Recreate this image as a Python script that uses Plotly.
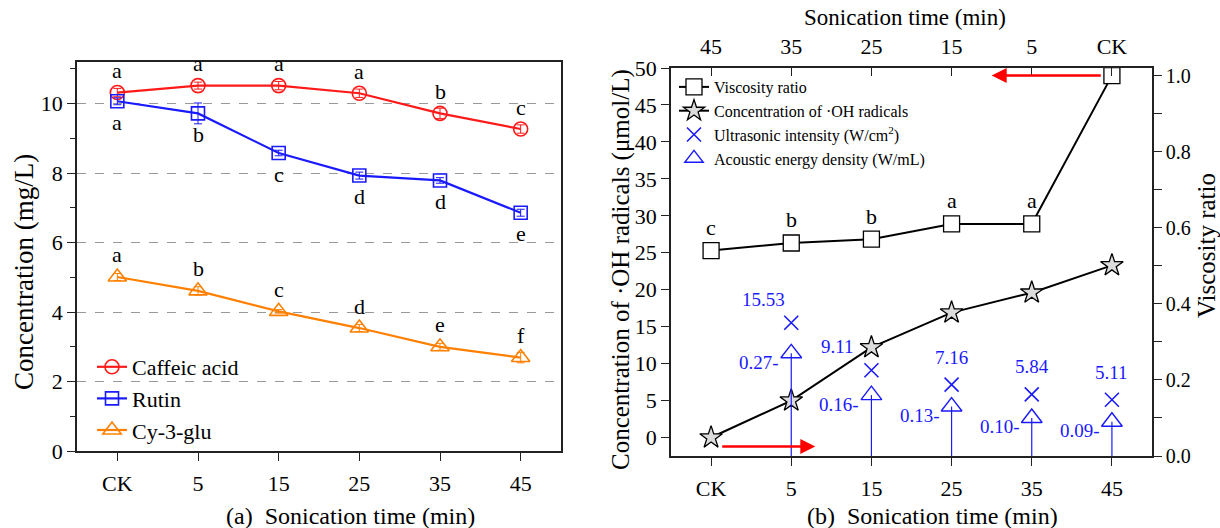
import plotly.graph_objects as go

# ---------------- data ----------------
times = ["CK", "5", "15", "25", "35", "45"]
times_rev = ["45", "35", "25", "15", "5", "CK"]

caffeic = [10.32, 10.52, 10.52, 10.30, 9.72, 9.27]
caffeic_err = [0.12, 0.10, 0.12, 0.12, 0.15, 0.12]
caffeic_lbl = ["a", "a", "a", "a", "b", "c"]

rutin = [10.07, 9.72, 8.58, 7.93, 7.79, 6.86]
rutin_err = [0.10, 0.30, 0.08, 0.10, 0.08, 0.10]
rutin_lbl = ["a", "b", "c", "d", "d", "e"]

cy3glu = [5.01, 4.61, 4.02, 3.54, 3.00, 2.69]
cy3glu_err = [0.10, 0.12, 0.05, 0.10, 0.10, 0.15]
cy3glu_lbl = ["a", "b", "c", "d", "e", "f"]

# right panel
visc_times = ["45", "35", "25", "15", "5", "CK"]
viscosity = [0.54, 0.56, 0.57, 0.61, 0.61, 1.00]
visc_err = [0.005, 0.015, 0.005, 0.012, 0.005, 0.012]
visc_lbl = ["c", "b", "b", "a", "a", ""]

oh_times = ["CK", "5", "15", "25", "35", "45"]
oh_rad = [0.0, 5.0, 12.2, 16.9, 19.6, 23.3]

us_times = ["5", "15", "25", "35", "45"]
us_intensity = [15.53, 9.11, 7.16, 5.84, 5.11]
energy_density = [0.27, 0.16, 0.13, 0.10, 0.09]

FONT = "Liberation Serif"
BLUE = "#1a1aff"
W, H = 1220, 528


def px(xp):
    return xp / W


def py(yp):
    return (H - yp) / H


fig = go.Figure()

# ---------------- left panel ----------------
series = [
    ("Caffeic acid", caffeic, caffeic_err, "#ff1a1a", "circle-open", 14),
    ("Rutin", rutin, rutin_err, "#1a1aff", "square-open", 13),
    ("Cy-3-glu", cy3glu, cy3glu_err, "#ff8000", "triangle-up-open", 16),
]
for name, vals, err, col, sym, sz in series:
    fig.add_trace(go.Scatter(
        x=times, y=vals, name=name, mode="lines+markers",
        line=dict(color=col, width=2.2),
        marker=dict(symbol=sym, size=sz, color=col, line=dict(width=1.6, color=col)),
        error_y=dict(type="data", array=err, color=col, thickness=1, width=4),
        xaxis="x", yaxis="y", legend="legend",
    ))

# ---------------- right panel ----------------
drop_x, drop_y = [], []
for t, v in zip(us_times, energy_density):
    drop_x += [t, t, None]
    drop_y += [0, v, None]
fig.add_trace(go.Scatter(
    x=drop_x, y=drop_y, mode="lines", line=dict(color=BLUE, width=1.2),
    xaxis="x2", yaxis="y3", showlegend=False, hoverinfo="skip"))

fig.add_trace(go.Scatter(
    x=visc_times, y=viscosity, name="Viscosity ratio", mode="lines+markers",
    line=dict(color="black", width=2),
    marker=dict(symbol="square", size=16, color="white", line=dict(width=1.3, color="black")),
    error_y=dict(type="data", array=visc_err, color="black", thickness=1, width=3),
    xaxis="x3", yaxis="y3", legend="legend2"))

fig.add_trace(go.Scatter(
    x=oh_times, y=oh_rad, name="Concentration of ·OH radicals", mode="lines+markers",
    line=dict(color="black", width=2),
    marker=dict(symbol="star", size=17, color="#dcdcdc", line=dict(width=1.3, color="black")),
    xaxis="x2", yaxis="y2", legend="legend2"))

fig.add_trace(go.Scatter(
    x=us_times, y=us_intensity, name="Ultrasonic intensity (W/cm<sup>2</sup>)", mode="markers",
    marker=dict(symbol="x-thin-open", size=14, color=BLUE, line=dict(width=1.6, color=BLUE)),
    xaxis="x2", yaxis="y2", legend="legend2"))

fig.add_trace(go.Scatter(
    x=us_times, y=energy_density, name="Acoustic energy density (W/mL)", mode="markers",
    marker=dict(symbol="triangle-up-open", size=18, color=BLUE, line=dict(width=1.4, color=BLUE)),
    xaxis="x2", yaxis="y3", legend="legend2"))

ann = []
LET = dict(family=FONT, size=22, color="black")
for vals, lbls, shift in [(caffeic, caffeic_lbl, 22), (rutin, rutin_lbl, -21), (cy3glu, cy3glu_lbl, 22)]:
    for t, v, l in zip(times, vals, lbls):
        ann.append(dict(x=times.index(t), y=v, xref="x", yref="y", text=l, showarrow=False,
                        yshift=shift, font=LET))
for t, v, l in zip(visc_times, viscosity, visc_lbl):
    if l:
        ann.append(dict(x=times_rev.index(t), y=v, xref="x3", yref="y3", text=l, showarrow=False,
                        yshift=23, font=LET))
us_shifts = [(-28, 23), (-34, 24), (0, 27), (0, 28), (0, 27)]
for t, v, (xs, ys) in zip(us_times, us_intensity, us_shifts):
    ann.append(dict(x=times.index(t), y=v, xref="x2", yref="y2", text=f"{v:.2f}", showarrow=False,
                    xshift=xs, yshift=ys, font=dict(family=FONT, size=19, color=BLUE)))
for t, v in zip(us_times, energy_density):
    ann.append(dict(x=times.index(t), y=v, xref="x2", yref="y3", text=f"{v:.2f}-", showarrow=False,
                    xanchor="right", xshift=-10, yshift=-9,
                    font=dict(family=FONT, size=19, color=BLUE)))
# red arrows
ann.append(dict(x=3.5, y=1.0, ax=4.88, ay=1.0, xref="x2", yref="y3", axref="x2", ayref="y3",
                text="", showarrow=True, arrowhead=2, arrowsize=1.2, arrowwidth=2.5, arrowcolor="red"))
ann.append(dict(x=1.3, y=-1.2, ax=0.12, ay=-1.2, xref="x2", yref="y2", axref="x2", ayref="y2",
                text="", showarrow=True, arrowhead=2, arrowsize=1.2, arrowwidth=2.5, arrowcolor="red"))

# titles and captions (paper positioned text)
TT = dict(family=FONT, size=24, color="black")
ann.append(dict(x=px(351), y=py(516), xref="paper", yref="paper", xanchor="center", yanchor="middle",
                text="(a)  Sonication time (min)", showarrow=False, font=TT))
ann.append(dict(x=px(932), y=py(516), xref="paper", yref="paper", xanchor="center", yanchor="middle",
                text="(b)  Sonication time (min)", showarrow=False, font=TT))
ann.append(dict(x=px(905), y=py(18), xref="paper", yref="paper", xanchor="center", yanchor="middle",
                text="Sonication time (min)", showarrow=False,
                font=dict(family=FONT, size=23, color="black")))
ann.append(dict(x=px(24), y=py(272), xref="paper", yref="paper", xanchor="center", yanchor="middle",
                text="Concentration (mg/L)", textangle=-90, showarrow=False,
                font=dict(family=FONT, size=27, color="black")))
ann.append(dict(x=px(621), y=py(270), xref="paper", yref="paper", xanchor="center", yanchor="middle",
                text="Concentration of ·OH radicals (μmol/L)", textangle=-90, showarrow=False,
                font=dict(family=FONT, size=25, color="black")))
ann.append(dict(x=px(1206), y=py(246), xref="paper", yref="paper", xanchor="center", yanchor="middle",
                text="Viscosity ratio", textangle=-90, showarrow=False,
                font=dict(family=FONT, size=25, color="black")))

axfont = dict(family=FONT, size=22, color="black")
common = dict(showline=True, linecolor="#222", linewidth=1.6, ticks="outside", ticklen=8,
              tickwidth=1.4, tickcolor="#222", automargin=False, zeroline=False,
              tickfont=axfont, showgrid=False)

fig.update_layout(
    width=W, height=H, margin=dict(l=0, r=0, t=0, b=0),
    paper_bgcolor="white", plot_bgcolor="white",
    font=dict(family=FONT, color="black"),
    annotations=ann,
    xaxis=dict(domain=[px(77), px(561)], anchor="y", type="category",
               categoryorder="array", categoryarray=times, range=[-0.5, 5.5],
               mirror=True, ticklabelstandoff=4, **common),
    yaxis=dict(domain=[py(451), py(62)], anchor="x", range=[0, 11.2],
               dtick=2, mirror=True,
               minor=dict(dtick=1, ticks="outside", ticklen=5, tickcolor="#222", showgrid=False),
               **{**common, "showgrid": True}, gridcolor="#999", griddash="dash", gridwidth=1),
    xaxis2=dict(domain=[px(671), px(1152)], anchor="y2", type="category",
                categoryorder="array", categoryarray=times, range=[-0.5, 5.5],
                ticklabelstandoff=4, **common),
    yaxis2=dict(domain=[py(456), py(68)], anchor="x2", range=[-2.5, 50],
                dtick=5, **common),
    yaxis3=dict(overlaying="y2", side="right", anchor="x2", range=[0, 1.02], dtick=0.2,
                tickformat=".1f",
                minor=dict(dtick=0.1, ticks="outside", ticklen=8, tickcolor="#222"),
                **{**common, "tickfont": dict(family=FONT, size=20, color="black")}),
    xaxis3=dict(overlaying="x2", side="top", anchor="y2", type="category",
                categoryorder="array", categoryarray=times_rev, range=[-0.5, 5.5],
                ticklabelstandoff=3,
                **{**common, "ticks": "inside"}),
    legend=dict(x=px(92), y=py(346), xanchor="left", yanchor="top",
                bgcolor="rgba(0,0,0,0)", font=dict(family=FONT, size=22, color="black"),
                tracegroupgap=0),
    legend2=dict(x=px(674), y=py(70), xanchor="left", yanchor="top",
                 bgcolor="rgba(0,0,0,0)", font=dict(family=FONT, size=16, color="black"),
                 tracegroupgap=0),
)

fig.write_html("out.html")
